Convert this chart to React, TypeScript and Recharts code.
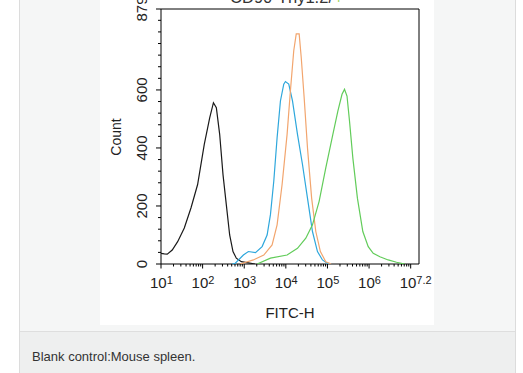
import { Line, LineChart, ReferenceArea, XAxis, YAxis } from 'recharts'

const FONT = '"Liberation Sans", Arial, sans-serif'

// x values are log10(FITC-H), y values are event counts
const X_DECADES = [1, 2, 3, 4, 5, 6, 7]
const X_DECADE_LABELS = ['1', '2', '3', '4', '5', '6', '7.2']
const X_MINOR_FACTORS = [2, 3, 4, 5, 6, 7, 8, 9]
const Y_MAJOR = [0, 200, 400, 600, 879]
const Y_MINOR = [
  40, 80, 120, 160, 240, 280, 320, 360, 440, 480, 520, 560, 640, 680, 720,
  760, 800, 840,
]

const blankLog = [
  1.0, 1.08, 1.15, 1.27, 1.4, 1.56, 1.72, 1.88, 2.04, 2.17, 2.26, 2.33, 2.41,
  2.49, 2.57, 2.65, 2.73, 2.81, 2.93, 3.1, 3.26,
]
const blankCount = [
  37, 35, 34, 48, 77, 124, 193, 274, 412, 504, 556, 539, 447, 308, 204, 100,
  43, 20, 8, 4, 0,
]

const blueLog = [
  2.71, 2.78, 2.98, 3.1, 3.27, 3.43, 3.55, 3.63, 3.71, 3.79, 3.87, 3.95, 3.99,
  4.07, 4.16, 4.28, 4.4, 4.52, 4.64, 4.76, 4.88, 5.0, 5.09,
]
const blueCount = [
  0, 2, 31, 43, 39, 60, 100, 170, 285, 435, 562, 620, 629, 620, 562, 447, 343,
  227, 112, 43, 14, 2, 0,
]

const orangeLog = [
  2.9, 3.22, 3.47, 3.67, 3.79, 3.91, 4.03, 4.11, 4.19, 4.25, 4.32, 4.37, 4.44,
  4.52, 4.62, 4.72, 4.83, 4.96, 5.09,
]
const orangeCount = [
  0, 14, 31, 66, 135, 274, 447, 597, 735, 793, 793, 712, 574, 401, 227, 112,
  43, 8, 0,
]

const greenLog = [
  3.31, 3.63, 4.03, 4.28, 4.48, 4.64, 4.8, 4.96, 5.13, 5.25, 5.35, 5.41, 5.47,
  5.53, 5.61, 5.72, 5.85, 5.98, 6.1, 6.26, 6.46, 6.66, 6.86,
]
const greenCount = [
  0, 20, 31, 54, 89, 135, 216, 331, 447, 527, 585, 602, 579, 493, 366, 227,
  112, 60, 37, 25, 14, 6, 0,
]

const toPoints = (xs: number[], ys: number[]) =>
  xs.map((x, i) => ({ x, y: ys[i] }))

const xTicks = [
  ...X_DECADES,
  ...X_DECADES.flatMap((d) => X_MINOR_FACTORS.map((f) => d + Math.log10(f))),
].filter((v) => v <= 7.2)
const yTicks = [...Y_MINOR, ...Y_MAJOR]

function XTick({ x, y, payload }: any) {
  const i = X_DECADES.indexOf(payload.value)
  if (i < 0) {
    return <line x1={x} x2={x} y1={y} y2={y + 2.5} stroke="#000" />
  }
  return (
    <g>
      <line x1={x} x2={x} y1={y} y2={y + 4.5} stroke="#000" />
      <text x={x - 11} y={y + 24} fontSize={15} fill="#222" fontFamily={FONT}>
        10
        <tspan dy={-4} fontSize={11}>
          {X_DECADE_LABELS[i]}
        </tspan>
      </text>
    </g>
  )
}

function YTick({ x, y, payload }: any) {
  const major = Y_MAJOR.includes(payload.value)
  return (
    <g>
      <line x1={x - (major ? 5 : 3)} x2={x} y1={y} y2={y} stroke="#000" />
      {major && (
        <text
          x={x - 14}
          y={y}
          transform={`rotate(-90 ${x - 14} ${y})`}
          textAnchor="middle"
          fontSize={15}
          fill="#222"
          fontFamily={FONT}
        >
          {payload.value}
        </text>
      )}
    </g>
  )
}

export default function App() {
  return (
    <div
      style={{
        position: 'absolute',
        left: 0,
        top: 0,
        width: 523,
        height: 373,
        background: '#fff',
        overflow: 'hidden',
        fontFamily: FONT,
      }}
    >
      <div
        style={{
          position: 'absolute',
          left: 19,
          top: 0,
          width: 495,
          height: 373,
          background: '#eeefef',
          borderLeft: '1px solid #dcdcdc',
          borderRight: '1px solid #dcdcdc',
        }}
      >
        <div
          style={{
            height: 331,
            background: '#f5f6f6',
            borderBottom: '1px solid #dedede',
          }}
        />
        <div
          style={{
            position: 'absolute',
            left: 12,
            top: 349,
            fontSize: 13,
            lineHeight: '15px',
            color: '#333',
          }}
        >
          Blank control:Mouse spleen.
        </div>
      </div>

      <div
        style={{
          position: 'absolute',
          left: 100,
          top: 0,
          width: 334,
          height: 325,
          background: '#fff',
        }}
      >
        <LineChart
          width={334}
          height={325}
          margin={{ top: 9, right: 15, bottom: 0, left: 0 }}
        >
          <XAxis
            dataKey="x"
            type="number"
            domain={[1, 7.2]}
            allowDataOverflow
            ticks={xTicks}
            interval={0}
            tick={<XTick />}
            tickLine={false}
            axisLine={false}
            tickSize={0}
            tickMargin={0}
            height={61}
          />
          <YAxis
            type="number"
            domain={[0, 879]}
            allowDataOverflow
            ticks={yTicks}
            interval={0}
            tick={<YTick />}
            tickLine={false}
            axisLine={false}
            tickSize={0}
            tickMargin={0}
            width={61}
          />
          <ReferenceArea
            x1={1}
            x2={7.2}
            y1={0}
            y2={879}
            fill="none"
            stroke="#000"
            strokeWidth={1}
          />
          <Line
            data={toPoints(blankLog, blankCount)}
            dataKey="y"
            type="linear"
            stroke="#1a1a1a"
            strokeWidth={1.2}
            dot={false}
            isAnimationActive={false}
          />
          <Line
            data={toPoints(blueLog, blueCount)}
            dataKey="y"
            type="linear"
            stroke="#2ea7dc"
            strokeWidth={1.2}
            dot={false}
            isAnimationActive={false}
          />
          <Line
            data={toPoints(orangeLog, orangeCount)}
            dataKey="y"
            type="linear"
            stroke="#f2a56e"
            strokeWidth={1.2}
            dot={false}
            isAnimationActive={false}
          />
          <Line
            data={toPoints(greenLog, greenCount)}
            dataKey="y"
            type="linear"
            stroke="#62cc5a"
            strokeWidth={1.2}
            dot={false}
            isAnimationActive={false}
          />
        </LineChart>
        <svg
          width={334}
          height={325}
          style={{ position: 'absolute', left: 0, top: 0, pointerEvents: 'none' }}
        >
          <text
            x={130}
            y={2.5}
            fontSize={16}
            fill="#333"
            fontFamily={FONT}
            textLength={103}
            lengthAdjust="spacingAndGlyphs"
          >
            CD90-Thy1.2/
          </text>
          <text x={234} y={2.5} fontSize={16} fill="#9fd65a" fontFamily={FONT}>
            +
          </text>
          <text
            x={190}
            y={318}
            textAnchor="middle"
            fontSize={15}
            fill="#222"
            fontFamily={FONT}
          >
            FITC-H
          </text>
          <text
            x={21}
            y={137}
            transform="rotate(-90 21 137)"
            textAnchor="middle"
            fontSize={14}
            fill="#222"
            fontFamily={FONT}
          >
            Count
          </text>
        </svg>
      </div>
    </div>
  )
}
